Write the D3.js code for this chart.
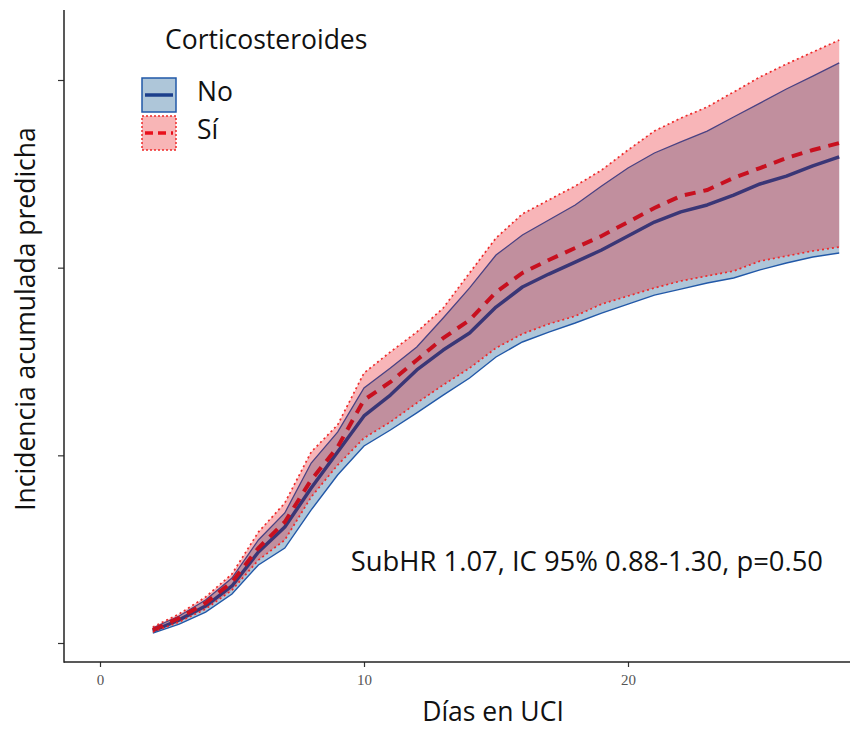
<!DOCTYPE html>
<html>
<head>
<meta charset="utf-8">
<script src="https://cdn.jsdelivr.net/npm/d3@7"></script>
<style>
  html, body { margin: 0; padding: 0; background: #fff; }
  svg { display: block; }
</style>
</head>
<body>
<svg id="chart" width="864" height="731"></svg>
<script>
// Days in ICU
const days = [2,3,4,5,6,7,8,9,10,11,12,13,14,15,16,17,18,19,20,21,22,23,24,25,26,27,28];

// Predicted cumulative incidence — no corticosteroids
const noEst = [.0064,.0123,.0197,.0304,.0485,.0618,.0826,.1018,.1210,.1321,.1455,.1561,.1652,.1790,.1897,.1966,.2030,.2094,.2169,.2243,.2297,.2334,.2387,.2446,.2488,.2542,.2590];
const noLow = [.0053,.0101,.0165,.0261,.0416,.0506,.0709,.0895,.1050,.1135,.1226,.1321,.1412,.1524,.1604,.1657,.1705,.1758,.1806,.1854,.1886,.1918,.1945,.1988,.2025,.2057,.2078];
const noHigh = [.0080,.0144,.0229,.0346,.0549,.0693,.0959,.1124,.1359,.1465,.1577,.1732,.1892,.2067,.2174,.2254,.2334,.2435,.2531,.2611,.2670,.2728,.2803,.2877,.2952,.3021,.3091];

// Predicted cumulative incidence — corticosteroids
const siEst = [.0069,.0133,.0213,.0325,.0506,.0645,.0869,.1044,.1295,.1391,.1508,.1625,.1721,.1870,.1972,.2041,.2105,.2169,.2243,.2318,.2382,.2414,.2478,.2531,.2584,.2627,.2664];
const siLow = [.0059,.0112,.0181,.0282,.0442,.0549,.0778,.0948,.1092,.1178,.1279,.1375,.1465,.1572,.1647,.1700,.1742,.1806,.1849,.1892,.1929,.1956,.1982,.2035,.2062,.2089,.2110];
const siHigh = [.0085,.0155,.0245,.0368,.0591,.0746,.1018,.1162,.1439,.1551,.1657,.1785,.1972,.2158,.2286,.2361,.2435,.2520,.2627,.2728,.2797,.2856,.2936,.3016,.3085,.3149,.3213];

const xTicks = [0, 10, 20];
const yTicks = [0, 0.1, 0.2, 0.3];

const legendTitle = "Corticosteroides";
const legendLabels = ["No", "Sí"];
const annotation = "SubHR 1.07, IC 95% 0.88-1.30, p=0.50";
const xTitle = "Días en UCI";
const yTitle = "Incidencia acumulada predicha";

const svg = d3.select("#chart");
const sansFont = "'Open Sans', Lato, sans-serif";
const textSize = 26.5;

const plot = { left: 64, right: 850, top: 10, bottom: 662 };
const x = d3.scaleLinear().domain([0, 28]).range([100, 839.2]);
const y = d3.scaleLinear().domain([0, 0.3]).range([643, 80]);

const rows = (est, lo, hi) => days.map((d, i) => ({ d, est: est[i], lo: lo[i], hi: hi[i] }));
const noData = rows(noEst, noLow, noHigh);
const siData = rows(siEst, siLow, siHigh);

const area = d3.area().x(r => x(r.d)).y0(r => y(r.lo)).y1(r => y(r.hi));
const lineOf = key => d3.line().x(r => x(r.d)).y(r => y(r[key]));

const colors = {
  noFill: "#aec6d9", noEdge: "#2158a8", noEdgeUnder: "#4a4283", noLine: "#3a3676",
  siFill: "rgba(235,30,40,0.33)", siEdge: "#ee2a2a", siLine: "#c8101f"
};

const g = svg.append("g");
// Both confidence bands: blue first, translucent red over it
g.append("path").datum(noData).attr("d", area).attr("fill", colors.noFill);
g.append("path").datum(siData).attr("d", area).attr("fill", colors.siFill);

// "No" bounds and estimate
g.append("path").datum(noData).attr("d", lineOf("lo"))
  .attr("fill", "none").attr("stroke", colors.noEdge).attr("stroke-width", 1.4);
g.append("path").datum(noData).attr("d", lineOf("hi"))
  .attr("fill", "none").attr("stroke", colors.noEdgeUnder).attr("stroke-width", 1.3);
g.append("path").datum(noData).attr("d", lineOf("est"))
  .attr("fill", "none").attr("stroke", colors.noLine).attr("stroke-width", 3.5)
  .attr("stroke-linejoin", "round");

// "Sí" dotted bounds and dashed estimate
["lo", "hi"].forEach(k => g.append("path").datum(siData).attr("d", lineOf(k))
  .attr("fill", "none").attr("stroke", colors.siEdge).attr("stroke-width", 1.7)
  .attr("stroke-dasharray", "2,3"));
g.append("path").datum(siData).attr("d", lineOf("est"))
  .attr("fill", "none").attr("stroke", colors.siLine).attr("stroke-width", 4)
  .attr("stroke-dasharray", "11,8");

// Axes
const xAxis = svg.append("g").attr("transform", `translate(0,${plot.bottom})`)
  .call(d3.axisBottom(x).tickValues(xTicks).tickSize(5).tickPadding(7).tickFormat(d3.format("d")));
xAxis.select(".domain").remove();
xAxis.selectAll("line").attr("stroke", "#333").attr("stroke-width", 1.2);
xAxis.selectAll("text").attr("font-family", "'Liberation Serif', 'DejaVu Serif', serif")
  .attr("font-size", 15).attr("fill", "#555");

const yAxis = svg.append("g").attr("transform", `translate(${plot.left},0)`)
  .call(d3.axisLeft(y).tickValues(yTicks).tickSize(6).tickFormat(""));
yAxis.select(".domain").remove();
yAxis.selectAll("line").attr("stroke", "#333").attr("stroke-width", 1.2);

svg.append("line").attr("x1", plot.left).attr("x2", plot.right)
  .attr("y1", plot.bottom).attr("y2", plot.bottom).attr("stroke", "#222").attr("stroke-width", 1.5);
svg.append("line").attr("x1", plot.left).attr("x2", plot.left)
  .attr("y1", plot.top).attr("y2", plot.bottom + 0.75).attr("stroke", "#222").attr("stroke-width", 1.5);

// Axis titles
svg.append("text").attr("x", 493).attr("y", 721).attr("text-anchor", "middle")
  .attr("font-family", sansFont).attr("font-size", textSize).attr("fill", "#111").text(xTitle);
svg.append("text").attr("transform", "translate(35,319) rotate(-90)").attr("text-anchor", "middle")
  .attr("font-family", sansFont).attr("font-size", textSize).attr("fill", "#111").text(yTitle);

// Annotation
svg.append("text").attr("x", 823).attr("y", 571).attr("text-anchor", "end")
  .attr("font-family", sansFont).attr("font-size", 27.4).attr("fill", "#111").text(annotation);

// Legend
const lg = svg.append("g");
lg.append("text").attr("x", 165).attr("y", 49).attr("font-family", sansFont)
  .attr("font-size", textSize).attr("fill", "#111").text(legendTitle);

const keyX = 142, keyW = 34, keyH = 34;
const keyY = [78, 116];
// No key
lg.append("rect").attr("x", keyX).attr("y", keyY[0]).attr("width", keyW).attr("height", keyH)
  .attr("fill", colors.noFill).attr("stroke", colors.noEdge).attr("stroke-width", 1.5);
lg.append("line").attr("x1", keyX + 3).attr("x2", keyX + keyW - 3)
  .attr("y1", keyY[0] + keyH / 2).attr("y2", keyY[0] + keyH / 2)
  .attr("stroke", "#1c3f8c").attr("stroke-width", 3.5);
// Sí key
lg.append("rect").attr("x", keyX).attr("y", keyY[1]).attr("width", keyW).attr("height", keyH)
  .attr("fill", "#f8b5b6").attr("stroke", colors.siEdge).attr("stroke-width", 1.5)
  .attr("stroke-dasharray", "2,2");
lg.append("line").attr("x1", keyX + 3).attr("x2", keyX + keyW - 3)
  .attr("y1", keyY[1] + keyH / 2).attr("y2", keyY[1] + keyH / 2)
  .attr("stroke", "#e8101c").attr("stroke-width", 3.5).attr("stroke-dasharray", "8,5");

legendLabels.forEach((t, i) => {
  lg.append("text").attr("x", 197).attr("y", keyY[i] + 23)
    .attr("font-family", sansFont).attr("font-size", textSize).attr("fill", "#111").text(t);
});
</script>
</body>
</html>
